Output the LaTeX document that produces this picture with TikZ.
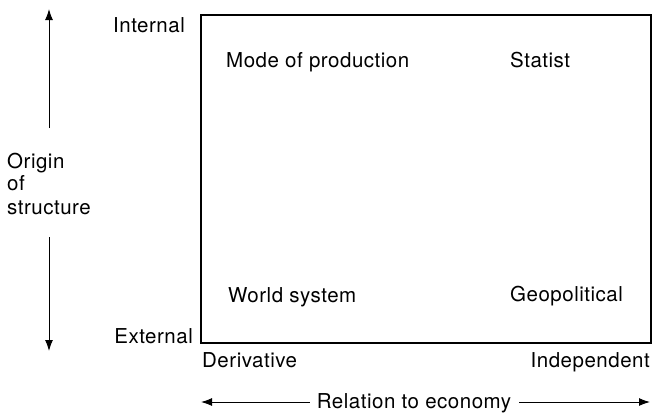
\documentclass[tikz,border=0pt]{standalone}
\usepackage{fontspec}
\setmainfont[LetterSpace=2.5]{TeX Gyre Heros}
\usetikzlibrary{arrows.meta}
\begin{document}
\begin{tikzpicture}[x=1pt,y=-1pt,
  lbl/.style={inner sep=0pt,font=\fontsize{20.5}{24}\selectfont},
  boxline/.style={line width=1.2pt},
  axis/.style={line width=1pt,-{Latex[length=11pt,width=8pt]}}]
\useasboundingbox (0,0) rectangle (653,413);
% box
\coordinate (tl) at (201,15);
\coordinate (br) at (651,343);
\draw[boxline] (tl) rectangle (br);
% quadrant labels
\node[lbl,anchor=base west] (mode) at (226,67) {Mode of production};
\node[lbl,anchor=base west] (statist) at (510,67) {Statist};
\node[lbl,anchor=base west] (world) at (228,302) {World system};
\node[lbl,anchor=base west] (geo) at (510,301) {Geopolitical};
% axis end labels
\node[lbl,anchor=base east] (internal) at (185,32) {Internal};
\node[lbl,anchor=base east] (external) at (193,343) {External};
\node[lbl,anchor=base west] (deriv) at (202,367) {Derivative};
\node[lbl,anchor=base east] (indep) at (650,367) {Independent};
% vertical axis
\node[lbl,anchor=base west] (origin1) at (7,168) {Origin};
\node[lbl,anchor=base west] (origin2) at (7,190) {of};
\node[lbl,anchor=base west] (origin3) at (7,214) {structure};
\coordinate (vtop) at (49,9);
\coordinate (vup) at (49,128);
\coordinate (vlow) at (49,237);
\coordinate (vbot) at (49,351);
\draw[axis] (vup) -- (vtop);
\draw[axis] (vlow) -- (vbot);
% horizontal axis
\node[lbl,anchor=base] (rel) at (414,408) {Relation to economy};
\coordinate (hleft) at (201,402);
\coordinate (hright) at (650,402);
\draw[axis] ([xshift=-7pt]rel.west |- hleft) -- (hleft);
\draw[axis] ([xshift=8pt]rel.east |- hright) -- (hright);
\end{tikzpicture}
\end{document}
